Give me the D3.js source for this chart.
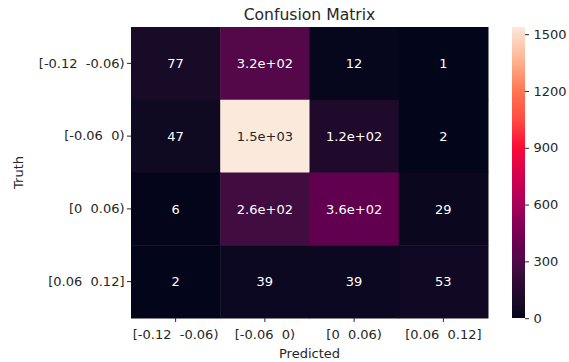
<!DOCTYPE html>
<html>
<head>
<meta charset="utf-8">
<script src="https://cdn.jsdelivr.net/npm/d3@7"></script>
<style>
  body { margin: 0; background: #fff; }
  svg text { font-family: "DejaVu Sans", sans-serif; white-space: pre; }
</style>
</head>
<body>
<svg id="chart" width="569" height="362"></svg>
<script>
// Interval bins used for both axes
const truthLabels = ["[-0.12  -0.06)", "[-0.06  0)", "[0  0.06)", "[0.06  0.12]"];
const predictedLabels = ["[-0.12  -0.06)", "[-0.06  0)", "[0  0.06)", "[0.06  0.12]"];

// Counts per truth row (rows) and predicted column (columns)
const row0 = [77, 320, 12, 1];
const row1 = [47, 1538, 120, 2];
const row2 = [6, 260, 360, 29];
const row3 = [2, 39, 39, 53];
const counts = [row0, row1, row2, row3];

const colorbarTicks = [0, 300, 600, 900, 1200, 1500];

// Rocket-style colour map: anchor positions and colours (dark to light)
const rocketPos = [0, 0.05, 0.08, 0.17, 0.21, 0.235, 0.30, 0.39, 0.48, 0.585, 0.68, 0.78, 0.88, 1];
const rocketCol = ["#03051a", "#180b28", "#200a2c", "#420c40", "#56084a", "#62004e", "#7a0056",
                   "#a80059", "#d00050", "#fa0a35", "#ff4a42", "#ff7552", "#fdb08e", "#fbe9dc"];
const rocketInterp = d3.scaleLinear()
  .domain(rocketPos)
  .range(rocketCol)
  .interpolate(d3.interpolateRgb)
  .clamp(true);

// Python-style "%.2g" formatting for cell annotations
function fmt2g(v) {
  if (v === 0) return "0";
  const e = Math.floor(Math.log10(Math.abs(v)));
  if (e < -4 || e >= 2) {
    const [m, ex] = v.toExponential(1).split("e");
    const n = parseInt(ex, 10);
    return m + "e" + (n < 0 ? "-" : "+") + String(Math.abs(n)).padStart(2, "0");
  }
  return String(+v.toPrecision(2));
}

const svg = d3.select("#chart");
const plotLeft = 131, plotRight = 488, plotTop = 27, plotBottom = 318;

const cells = [];
counts.forEach((row, i) => row.forEach((v, j) => cells.push({ truth: truthLabels[i], pred: predictedLabels[j], v })));
const flat = cells.map(d => d.v);
const vmin = d3.min(flat), vmax = d3.max(flat);

const x = d3.scaleBand().domain(predictedLabels).range([plotLeft, plotRight]);
const y = d3.scaleBand().domain(truthLabels).range([plotTop, plotBottom]);
const color = d3.scaleSequential(rocketInterp).domain([vmin, vmax]);

// Heatmap cells
svg.append("g").selectAll("rect").data(cells).join("rect")
  .attr("x", d => x(d.pred))
  .attr("y", d => y(d.truth))
  .attr("width", x.bandwidth() + 0.5)
  .attr("height", y.bandwidth() + 0.5)
  .attr("fill", d => color(d.v));

// Annotations: light text on dark cells, dark text on light cells
function luminance(c) {
  const rgb = d3.rgb(c);
  const lin = [rgb.r, rgb.g, rgb.b].map(u => { u /= 255; return u <= 0.03928 ? u / 12.92 : Math.pow((u + 0.055) / 1.055, 2.4); });
  return 0.2126 * lin[0] + 0.7152 * lin[1] + 0.0722 * lin[2];
}
svg.append("g").selectAll("text").data(cells).join("text")
  .attr("x", d => x(d.pred) + x.bandwidth() / 2)
  .attr("y", d => y(d.truth) + y.bandwidth() / 2)
  .attr("dy", "0.36em")
  .attr("text-anchor", "middle")
  .attr("font-size", 13)
  .attr("fill", d => luminance(color(d.v)) > 0.408 ? "#262626" : "#ffffff")
  .text(d => fmt2g(d.v));

// Axes
const xAxis = svg.append("g")
  .attr("transform", `translate(0,${plotBottom})`)
  .call(d3.axisBottom(x).tickSize(4).tickPadding(4.5));
const yAxis = svg.append("g")
  .attr("transform", `translate(${plotLeft},0)`)
  .call(d3.axisLeft(y).tickSize(4).tickPadding(2.5));
[xAxis, yAxis].forEach(g => {
  g.select(".domain").remove();
  g.selectAll(".tick line").attr("stroke", "#262626").attr("stroke-width", 1);
  g.selectAll(".tick text").attr("font-size", 13).attr("fill", "#262626")
    .style("font-family", "'DejaVu Sans', sans-serif");
});
xAxis.selectAll(".tick text").attr("dy", "0.93em");

// Colorbar
const cbX = 512, cbW = 13;
const cb = d3.scaleLinear().domain([vmin, vmax]).range([plotBottom, plotTop]);
const grad = svg.append("defs").append("linearGradient")
  .attr("id", "cbgrad").attr("x1", 0).attr("y1", 1).attr("x2", 0).attr("y2", 0);
d3.range(0, 1.0001, 0.01).forEach(t => {
  grad.append("stop").attr("offset", t).attr("stop-color", rocketInterp(t));
});
svg.append("rect")
  .attr("x", cbX).attr("y", plotTop)
  .attr("width", cbW).attr("height", plotBottom - plotTop)
  .attr("fill", "url(#cbgrad)");
const cbAxis = svg.append("g")
  .attr("transform", `translate(${cbX + cbW},0)`)
  .call(d3.axisRight(cb).tickValues(colorbarTicks).tickFormat(d3.format("d")).tickSize(4).tickPadding(4.5));
cbAxis.select(".domain").remove();
cbAxis.selectAll(".tick line").attr("stroke", "#262626");
cbAxis.selectAll(".tick text").attr("font-size", 13).attr("fill", "#262626")
  .style("font-family", "'DejaVu Sans', sans-serif");

// Titles
svg.append("text")
  .attr("x", (plotLeft + plotRight) / 2).attr("y", 20)
  .attr("text-anchor", "middle").attr("font-size", 15.6).attr("fill", "#262626")
  .text("Confusion Matrix");
svg.append("text")
  .attr("x", (plotLeft + plotRight) / 2).attr("y", 358)
  .attr("text-anchor", "middle").attr("font-size", 13).attr("fill", "#262626")
  .text("Predicted");
svg.append("text")
  .attr("transform", `translate(23,${(plotTop + plotBottom) / 2}) rotate(-90)`)
  .attr("text-anchor", "middle").attr("font-size", 13).attr("fill", "#262626")
  .text("Truth");
</script>
</body>
</html>
